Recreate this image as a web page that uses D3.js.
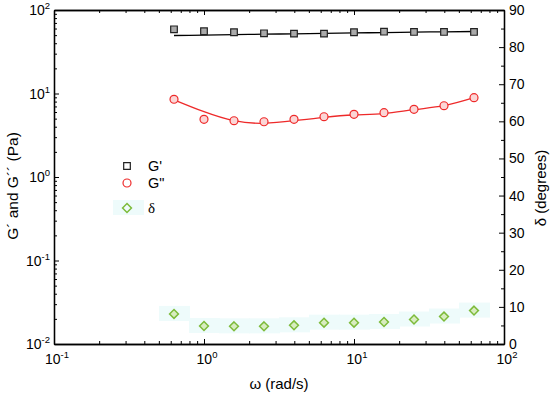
<!DOCTYPE html>
<html>
<head>
<meta charset="utf-8">
<script src="https://cdn.jsdelivr.net/npm/d3@7/dist/d3.min.js"></script>
<style>
  body { margin: 0; background: #fff; }
  svg { display: block; font-family: Arial, "Liberation Sans", sans-serif; }
</style>
</head>
<body>
<svg id="chart"></svg>
<script>
// data
const omega = [0.631, 1, 1.585, 2.512, 3.981, 6.31, 10, 15.85, 25.12, 39.81, 63.1];
const gPrime = [58.7, 55.6, 54.1, 52.6, 52.1, 52.1, 54.1, 55.0, 54.6, 54.6, 54.6];
const gPrimeFit = [49.5, 50.1, 50.7, 51.3, 51.9, 52.5, 53.1, 53.7, 54.3, 54.8, 55.3];
const gDouble = [8.53, 4.91, 4.72, 4.59, 4.91, 5.27, 5.63, 5.89, 6.47, 7.14, 8.91];
const gDoubleFit = [8.4, 6.05, 4.72, 4.40, 4.72, 5.19, 5.53, 5.73, 6.4, 7.14, 8.9];
const delta = [8.1, 4.85, 4.76, 4.76, 5.03, 5.75, 5.75, 5.93, 6.6, 7.4, 9.0];
const logTicks = [0.1, 1, 10, 100];
const leftTicks = [0.01, 0.1, 1, 10, 100];
const rightTicks = [0, 10, 20, 30, 40, 50, 60, 70, 80, 90];
const legendItems = ["G'", 'G"', 'δ'];

const width = 550;
const height = 395;
const margin = { top: 10, right: 46, bottom: 51, left: 54 };
const innerWidth = width - margin.left - margin.right;
const innerHeight = height - margin.top - margin.bottom;

const svg = d3.select('#chart')
  .attr('width', width)
  .attr('height', height);

const g = svg.append('g')
  .attr('transform', `translate(${margin.left}, ${margin.top})`);

// scales
const x = d3.scaleLog().domain([0.1, 100]).range([0, innerWidth]);
const yL = d3.scaleLog().domain([0.01, 100]).range([innerHeight, 0]);
const yR = d3.scaleLinear().domain([0, 90]).range([innerHeight, 0]);

// minor ticks for log scales
const minors = (lo, hi) => {
  const out = [];
  for (let p = lo; p < hi; p *= 10) {
    for (let k = 2; k <= 9; k++) out.push(p * k);
  }
  return out;
};
const xMinor = minors(0.1, 100);
const yMinor = minors(0.01, 100);

const colorRed = '#ee2a2a';
const colorGreen = '#7dbb3a';
const bandColor = '#eefbfb';

// faint cyan bands behind delta points
g.selectAll('rect.band')
  .data(omega)
  .enter()
  .append('rect')
  .attr('class', 'band')
  .attr('x', (d) => x(d) - 15)
  .attr('y', (d, i) => yR(delta[i]) - 8)
  .attr('width', 31)
  .attr('height', 15)
  .attr('fill', bandColor);

// axes (ticks inside)
const tickStyle = (sel) => {
  sel.select('.domain').attr('stroke', '#000').attr('stroke-width', 1.3);
  sel.selectAll('.tick line').attr('stroke', '#000').attr('stroke-width', 1);
};
const noText = (sel) => sel.selectAll('.tick text').remove();

g.append('g')
  .attr('transform', `translate(0, ${innerHeight})`)
  .call(d3.axisBottom(x).tickValues(logTicks).tickSizeInner(-5).tickSizeOuter(0))
  .call(tickStyle).call(noText);
g.append('g')
  .attr('transform', `translate(0, ${innerHeight})`)
  .call(d3.axisBottom(x).tickValues(xMinor).tickSizeInner(-3).tickSizeOuter(0))
  .call(tickStyle).call(noText);

g.append('g')
  .call(d3.axisTop(x).tickValues(logTicks).tickSizeInner(-5).tickSizeOuter(0))
  .call(tickStyle).call(noText);
g.append('g')
  .call(d3.axisTop(x).tickValues(xMinor).tickSizeInner(-3).tickSizeOuter(0))
  .call(tickStyle).call(noText);

g.append('g')
  .call(d3.axisLeft(yL).tickValues(leftTicks).tickSizeInner(-5).tickSizeOuter(0))
  .call(tickStyle).call(noText);
g.append('g')
  .call(d3.axisLeft(yL).tickValues(yMinor).tickSizeInner(-3).tickSizeOuter(0))
  .call(tickStyle).call(noText);

const rightAxis = g.append('g')
  .attr('transform', `translate(${innerWidth}, 0)`)
  .call(d3.axisRight(yR).tickValues(rightTicks).tickSizeInner(-5).tickSizeOuter(0).tickPadding(5));
rightAxis.call(tickStyle);
rightAxis.selectAll('.tick text').attr('font-size', 14).attr('fill', '#000').attr('font-family', 'Arial, "Liberation Sans", sans-serif');
g.append('g')
  .attr('transform', `translate(${innerWidth}, 0)`)
  .call(d3.axisRight(yR).tickValues(d3.range(5, 90, 10)).tickSizeInner(-3).tickSizeOuter(0))
  .call(tickStyle).call(noText);

// power-of-ten labels
const powLabel = (sel, v) => {
  const e = Math.round(Math.log10(v));
  sel.append('tspan').text('10');
  sel.append('tspan').attr('font-size', 9.5).attr('dy', -6).text(e);
};

leftTicks.forEach((v) => {
  g.append('text')
    .attr('x', -4)
    .attr('y', yL(v) + 5)
    .attr('text-anchor', 'end')
    .attr('font-size', 14)
    .call(powLabel, v);
});

logTicks.forEach((v) => {
  g.append('text')
    .attr('x', x(v) + 3)
    .attr('y', innerHeight + 20)
    .attr('text-anchor', 'middle')
    .attr('font-size', 14)
    .call(powLabel, v);
});

// G' and G" fit lines
g.append('path')
  .attr('d', d3.line()
    .x((d, i) => x(omega[i]))
    .y((d) => yL(d))
    .curve(d3.curveMonotoneX)(gPrimeFit))
  .attr('fill', 'none')
  .attr('stroke', '#000')
  .attr('stroke-width', 1.3);

g.append('path')
  .attr('d', d3.line()
    .x((d, i) => x(omega[i]))
    .y((d) => yL(d))
    .curve(d3.curveNatural)(gDoubleFit))
  .attr('fill', 'none')
  .attr('stroke', colorRed)
  .attr('stroke-width', 1.3);

const square = d3.symbol().type(d3.symbolSquare).size(44);
const circle = d3.symbol().type(d3.symbolCircle).size(50);
const diamond = d3.symbol().type(d3.symbolDiamond2).size(50);

g.selectAll('path.gp')
  .data(gPrime)
  .enter()
  .append('path')
  .attr('class', 'gp')
  .attr('d', square)
  .attr('transform', (d, i) => `translate(${x(omega[i])}, ${yL(d)})`)
  .attr('fill', '#aaa')
  .attr('stroke', '#222')
  .attr('stroke-width', 1.2);

g.selectAll('path.gdp')
  .data(gDouble)
  .enter()
  .append('path')
  .attr('class', 'gdp')
  .attr('d', circle)
  .attr('transform', (d, i) => `translate(${x(omega[i])}, ${yL(d)})`)
  .attr('fill', '#fbd6d6')
  .attr('stroke', colorRed)
  .attr('stroke-width', 1.2);

g.selectAll('path.dp')
  .data(delta)
  .enter()
  .append('path')
  .attr('class', 'dp')
  .attr('d', diamond)
  .attr('transform', (d, i) => `translate(${x(omega[i])}, ${yR(d)})`)
  .attr('fill', '#d8ecc0')
  .attr('stroke', colorGreen)
  .attr('stroke-width', 1.5);

// legend
const legend = svg.append('g').attr('transform', 'translate(127, 166)');
const legendSymbols = [
  { sym: square, stroke: '#222' },
  { sym: circle, stroke: colorRed },
  { sym: diamond, stroke: colorGreen }
];
const legendY = [0, 17, 42];
legend.append('rect')
  .attr('x', -14).attr('y', legendY[2] - 8)
  .attr('width', 31).attr('height', 15)
  .attr('fill', bandColor);
legendItems.forEach((t, i) => {
  legend.append('path')
    .attr('d', legendSymbols[i].sym)
    .attr('transform', `translate(0, ${legendY[i]})`)
    .attr('fill', 'none')
    .attr('stroke', legendSymbols[i].stroke)
    .attr('stroke-width', i === 2 ? 1.5 : 1.2);
  legend.append('text')
    .attr('x', 21)
    .attr('y', legendY[i] + 5)
    .attr('font-size', i === 2 ? 15 : 14.5)
    .attr('font-family', i === 2 ? '"Liberation Serif", "DejaVu Serif", serif' : null)
    .text(t);
});

// axis titles
svg.append('text')
  .attr('x', margin.left + innerWidth / 2)
  .attr('y', height - 6)
  .attr('text-anchor', 'middle')
  .attr('font-size', 15)
  .text('ω (rad/s)');

svg.append('text')
  .attr('transform', 'rotate(-90)')
  .attr('x', -186)
  .attr('y', 18)
  .attr('text-anchor', 'middle')
  .attr('font-size', 15.5)
  .text('G´ and G´´ (Pa)');

svg.append('text')
  .attr('transform', 'rotate(-90)')
  .attr('x', -188)
  .attr('y', 546)
  .attr('text-anchor', 'middle')
  .attr('font-size', 15)
  .text('δ (degrees)');
</script>
</body>
</html>
